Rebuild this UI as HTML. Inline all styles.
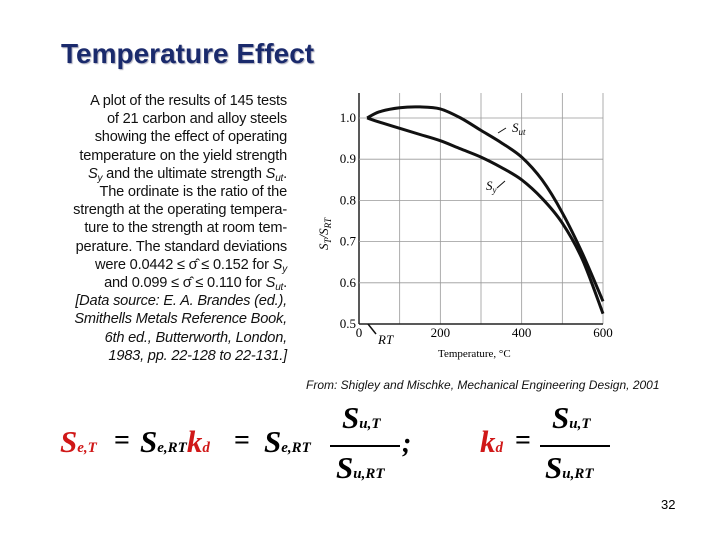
<!DOCTYPE html>
<html><head><meta charset="utf-8"><style>
body{margin:0;width:720px;height:540px;background:#fff;position:relative;overflow:hidden;font-family:"Liberation Sans",sans-serif}
.a{position:absolute;white-space:nowrap}
.t{font-family:"Liberation Serif",serif;font-weight:bold;font-style:italic}
.S{font-size:31px}
.sub{font-size:15px;font-style:italic}
.red{color:#d01818}
#desc{position:absolute;left:20px;top:92px;width:267px;text-align:right;font-size:14.6px;line-height:18.2px;color:#111;letter-spacing:-0.2px}
#desc sub{font-size:10px;line-height:0;vertical-align:-3px}
</style></head><body>
<div class="a" style="left:61px;top:38px;font-size:28px;font-weight:bold;color:#1a2a6c;text-shadow:1px 1px 1px #aab">Temperature Effect</div>
<div id="desc">A plot of the results of 145 tests<br>of 21 carbon and alloy steels<br>showing the effect of operating<br>temperature on the yield strength<br><i>S<sub>y</sub></i> and the ultimate strength <i>S<sub>ut</sub></i>.<br>The ordinate is the ratio of the<br>strength at the operating tempera-<br>ture to the strength at room tem-<br>perature. The standard deviations<br>were 0.0442 ≤ σ̂ ≤ 0.152 for <i>S<sub>y</sub></i><br>and 0.099 ≤ σ̂ ≤ 0.110 for <i>S<sub>ut</sub></i>.<br><i>[Data source: E. A. Brandes (ed.),<br>Smithells Metals Reference Book,<br>6th ed., Butterworth, London,<br>1983, pp. 22-128 to 22-131.]</i></div>
<svg class="a" style="left:0;top:0" width="720" height="540" font-family="Liberation Serif, serif">
<g id="grid"></g>
<g id="curves"></g>
<g id="labels"></g>
</svg>
<div class="a" style="left:306px;top:378px;font-size:12px;font-style:italic;color:#111">From: Shigley and Mischke, Mechanical Engineering Design, 2001</div>
<div>
<div class="a t S red" style="left:60px;top:424px">S<span class="sub">e,T</span></div>
<div class="a t" style="left:114px;top:425px;font-size:28px;font-style:normal">=</div>
<div class="a t S" style="left:140px;top:424px">S<span class="sub">e,RT</span><span class="red">k<span class="sub">d</span></span></div>
<div class="a t" style="left:234px;top:425px;font-size:28px;font-style:normal">=</div>
<div class="a t S" style="left:264px;top:424px">S<span class="sub">e,RT</span></div>
<div class="a t S" style="left:342px;top:400px">S<span class="sub">u,T</span></div>
<div class="a" style="left:330px;top:445px;width:70px;height:1.5px;background:#000"></div>
<div class="a t S" style="left:336px;top:450px">S<span class="sub">u,RT</span></div>
<div class="a t" style="left:402px;top:428px;font-size:28px">;</div>
<div class="a t S red" style="left:480px;top:424px">k<span class="sub">d</span></div>
<div class="a t" style="left:515px;top:425px;font-size:28px;font-style:normal">=</div>
<div class="a t S" style="left:552px;top:400px">S<span class="sub">u,T</span></div>
<div class="a" style="left:540px;top:445px;width:70px;height:1.5px;background:#000"></div>
<div class="a t S" style="left:545px;top:450px">S<span class="sub">u,RT</span></div>
</div>
<div class="a" style="left:661px;top:497px;font-size:13px">32</div>
<script>
const xTicks=[0,100,200,300,400,500,600];
const xTickLabels=["0","","200","","400","","600"];
const yTicks=[0.5,0.6,0.7,0.8,0.9,1.0];
const temps=[20,50,100,150,200,250,300,350,400,450,500,550,600];
const sut=[1.0,1.015,1.025,1.027,1.022,1.0,0.97,0.94,0.905,0.85,0.77,0.67,0.555];
const sy=[1.0,0.99,0.975,0.96,0.945,0.925,0.905,0.88,0.85,0.805,0.745,0.655,0.525];
const NS='http://www.w3.org/2000/svg';
const X=v=>359+v*(244/600), Y=v=>118+(1.0-v)*412;
function mk(p,t,at){const e=document.createElementNS(NS,t);for(const k in at)e.setAttribute(k,at[k]);p.appendChild(e);return e;}
const g=document.getElementById('grid'),c=document.getElementById('curves'),L=document.getElementById('labels');
xTicks.forEach((v,i)=>{const e=mk(g,'line',{x1:X(v),x2:X(v),y1:93,y2:Y(0.5),stroke:i==0?'#222':'#999','stroke-width':i==0?1.5:0.8});

if(xTickLabels[i]){const t=mk(L,'text',{x:X(v),y:337,'font-size':13,'text-anchor':'middle'});t.textContent=xTickLabels[i];
}});
yTicks.forEach((v,i)=>{const e=mk(g,'line',{x1:X(0),x2:X(600),y1:Y(v),y2:Y(v),stroke:i==0?'#222':'#999','stroke-width':i==0?1.5:0.8});

const t=mk(L,'text',{x:356,y:Y(v)+4,'font-size':13,'text-anchor':'end'});t.textContent=v.toFixed(1);
});
function path(arr){const P=temps.map((t,i)=>[X(t),Y(arr[i])]);let d='M'+P[0][0].toFixed(1)+' '+P[0][1].toFixed(1);
for(let i=0;i<P.length-1;i++){const p0=P[Math.max(0,i-1)],p1=P[i],p2=P[i+1],p3=P[Math.min(P.length-1,i+2)];
const c1=[p1[0]+(p2[0]-p0[0])/6,p1[1]+(p2[1]-p0[1])/6],c2=[p2[0]-(p3[0]-p1[0])/6,p2[1]-(p3[1]-p1[1])/6];
d+='C'+c1.map(v=>v.toFixed(1)).join(' ')+' '+c2.map(v=>v.toFixed(1)).join(' ')+' '+p2[0].toFixed(1)+' '+p2[1].toFixed(1);}return d;}
const p1=mk(c,'path',{d:path(sut),fill:'none',stroke:'#111','stroke-width':3,'stroke-linejoin':'round'});

const p2=mk(c,'path',{d:path(sy),fill:'none',stroke:'#111','stroke-width':3,'stroke-linejoin':'round'});

function txt(x,y,s,html,name){const t=mk(L,'text',{x:x,y:y,'font-size':s});t.innerHTML=html;return t;}
txt(512,132,13,'<tspan font-style="italic">S</tspan><tspan font-size="9" dy="3" font-style="italic">ut</tspan>','sut-label');
mk(L,'line',{x1:498,y1:133,x2:506,y2:128,stroke:'#111'});
txt(486,190,13,'<tspan font-style="italic">S</tspan><tspan font-size="9" dy="3" font-style="italic">y</tspan>','sy-label');
mk(L,'line',{x1:497,y1:188,x2:505,y2:181,stroke:'#111'});
txt(378,344,13,'<tspan font-style="italic">RT</tspan>','rt-label');
mk(L,'line',{x1:376,y1:334,x2:368,y2:324,stroke:'#111','stroke-width':1.5});
txt(438,357,11,'Temperature, °C','x-axis-title');
const yt=txt(0,0,13,'<tspan font-style="italic">S</tspan><tspan font-size="9" dy="3" font-style="italic">T</tspan><tspan dy="-3" font-style="italic">/S</tspan><tspan font-size="9" dy="3" font-style="italic">RT</tspan>','y-axis-title');
yt.setAttribute('transform','translate(328,250) rotate(-90)');
</script>
</body></html>
